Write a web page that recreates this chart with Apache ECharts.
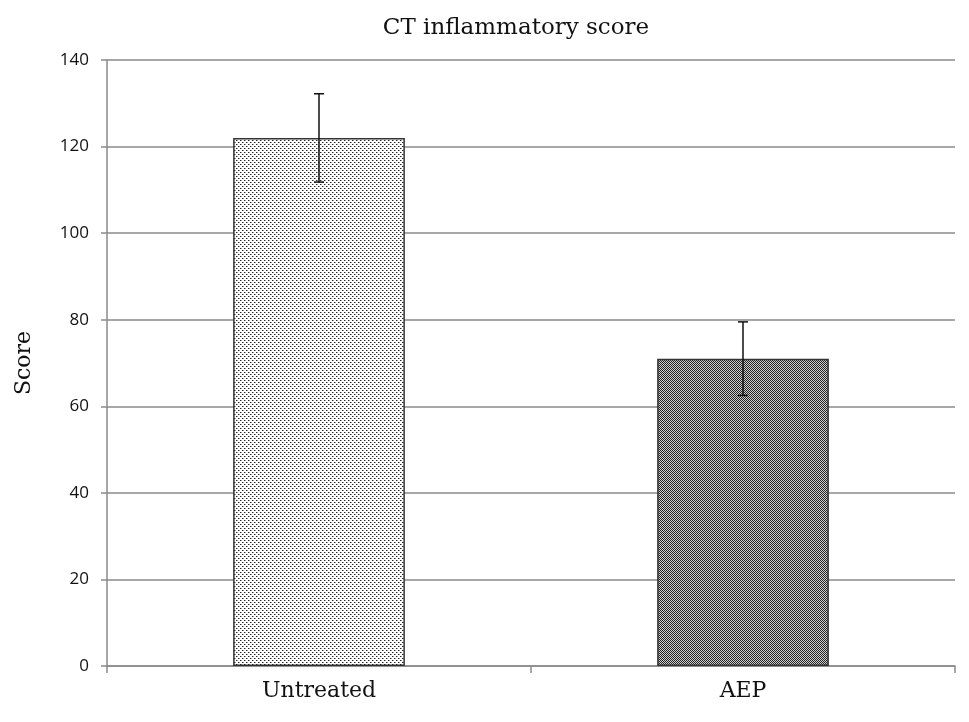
<!DOCTYPE html>
<html>
<head>
<meta charset="utf-8">
<script src="https://cdn.jsdelivr.net/npm/echarts@6/dist/echarts.min.js"></script>
<style>html,body{margin:0;padding:0;background:#fff;}#c{width:969px;height:722px;}</style>
</head>
<body>
<div id="c"></div>
<script>
const categories = ['Untreated', 'AEP'];
const meanValues = [122, 71];
const errorValues = [10.2, 8.5];
const yTicks = [0, 20, 40, 60, 80, 100, 120, 140];

function makePattern(kind) {
  const c = document.createElement('canvas');
  if (kind === 'dots') {
    c.width = 4; c.height = 4;
    const g = c.getContext('2d');
    g.fillStyle = '#ffffff'; g.fillRect(0, 0, 4, 4);
    g.fillStyle = '#9a9a9a';
    g.fillRect(0, 0, 2, 1);
    g.fillRect(2, 2, 2, 1);
    g.fillStyle = '#222222';
    g.fillRect(0, 0, 1, 1);
    g.fillRect(2, 2, 1, 1);
  } else {
    c.width = 2; c.height = 2;
    const g = c.getContext('2d');
    g.fillStyle = '#d0d0d0'; g.fillRect(0, 0, 2, 2);
    g.fillStyle = '#222222';
    g.fillRect(0, 0, 1, 1);
    g.fillRect(1, 1, 1, 1);
  }
  return { image: c, repeat: 'repeat' };
}
const patterns = [makePattern('dots'), makePattern('checker')];

const chart = echarts.init(document.getElementById('c'), null, { renderer: 'canvas' });
chart.setOption({
  animation: false,
  backgroundColor: '#ffffff',
  title: {
    text: 'CT inflammatory score',
    left: 511, top: 12, textAlign: 'center',
    textStyle: { fontFamily: 'DejaVu Serif', fontWeight: 'normal', fontSize: 23, color: '#111' }
  },
  grid: { left: 107, right: 14, top: 60, bottom: 56 },
  xAxis: {
    type: 'category',
    data: categories,
    axisLine: { lineStyle: { color: '#8a8a8a', width: 1.5 } },
    axisTick: { show: true, length: 7, lineStyle: { color: '#8a8a8a', width: 1.5 } },
    axisLabel: { fontFamily: 'DejaVu Serif', fontSize: 22, color: '#111', margin: 14 }
  },
  yAxis: {
    type: 'value',
    min: yTicks[0], max: yTicks[yTicks.length - 1], interval: 20,
    name: 'Score', nameLocation: 'middle', nameGap: 72, nameRotate: 90,
    nameTextStyle: { fontFamily: 'DejaVu Serif', fontSize: 22, color: '#111' },
    axisLine: { show: true, lineStyle: { color: '#8a8a8a', width: 1.5 } },
    axisTick: { show: true, length: 6, lineStyle: { color: '#8a8a8a', width: 1.5 } },
    axisLabel: { fontFamily: 'Open Sans', fontSize: 17, color: '#111', margin: 18 },
    splitLine: { lineStyle: { color: '#8a8a8a', width: 1.5 } }
  },
  series: [
    {
      type: 'bar',
      barWidth: '40.5%',
      data: meanValues.map((v, i) => ({
        value: v,
        itemStyle: { color: patterns[i], borderColor: '#333', borderWidth: 1.5 }
      })),
      z: 2
    },
    {
      type: 'custom',
      z: 3,
      data: meanValues.map((v, i) => [i, v - errorValues[i], v + errorValues[i]]),
      renderItem: function (params, api) {
        const lo = api.coord([api.value(0), api.value(1)]);
        const hi = api.coord([api.value(0), api.value(2)]);
        const x = lo[0], hw = 5;
        const st = { stroke: '#111', lineWidth: 1.5 };
        return {
          type: 'group',
          children: [
            { type: 'line', shape: { x1: x, y1: lo[1], x2: x, y2: hi[1] }, style: st },
            { type: 'line', shape: { x1: x - hw, y1: hi[1], x2: x + hw, y2: hi[1] }, style: st },
            { type: 'line', shape: { x1: x - hw, y1: lo[1], x2: x + hw, y2: lo[1] }, style: st }
          ]
        };
      }
    }
  ]
});
</script>
</body>
</html>
